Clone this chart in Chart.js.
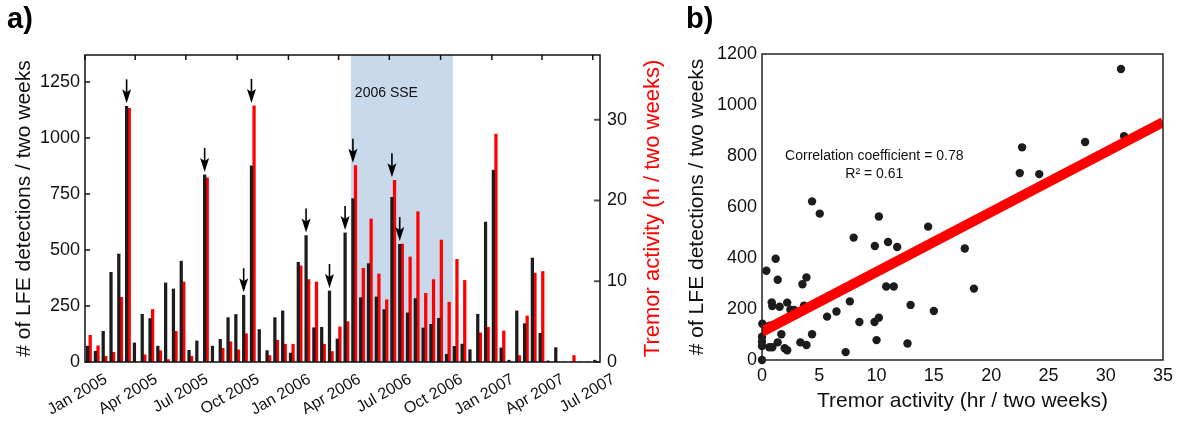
<!DOCTYPE html>
<html>
<head>
<meta charset="utf-8">
<script src="https://cdn.jsdelivr.net/npm/chart.js@4.4.1/dist/chart.umd.min.js"></script>
<style>
  html, body { margin: 0; padding: 0; background: #fff; }
  #wrap { position: relative; width: 1178px; height: 421px; overflow: hidden; }
  #chart-a { position: absolute; left: 0; top: 0; }
  #chart-b { position: absolute; left: 680px; top: 0; }
  .panel { position: absolute; font: bold 29px "Liberation Sans", Arial, sans-serif; color: #000; }
</style>
</head>
<body>
<div id="wrap">
  <canvas id="chart-a" width="680" height="421"></canvas>
  <canvas id="chart-b" width="498" height="421"></canvas>
  <div class="panel" style="left:7px; top:2px;">a)</div>
  <div class="panel" style="left:686px; top:2px;">b)</div>
</div>
<script>
const fontFam = '"Liberation Sans", Arial, Helvetica, sans-serif';
Chart.defaults.font.family = fontFam;
Chart.defaults.color = '#111';

// two-week bins starting 1 Jan 2005
const binDays = 14;
const lfeCounts = [71, 48, 137, 400, 482, 1141, 85, 213, 194, 71,
                   353, 326, 450, 52, 94, 835, 71, 101, 198, 212,
                   298, 875, 145, 51, 198, 228, 40, 445, 564, 153,
                   155, 317, 103, 576, 729, 287, 439, 290, 234, 735,
                   525, 219, 283, 152, 168, 195, 34, 70, 80, 55,
                   213, 624, 856, 63, 8, 228, 171, 464, 128, 5,
                   64, 0, 0, 0, 0, 8];
const tremorHours = [3.3, 2.0, 0.7, 1.2, 8.0, 31.4, 0, 0.9, 6.5, 1.4,
                     0.3, 3.8, 9.9, 0.7, 0, 22.8, 0, 1.7, 2.5, 1.5,
                     3.5, 31.7, 0, 0.8, 2.7, 2.2, 2.2, 11.9, 10.2, 9.9,
                     2.2, 1.3, 4.35, 5.0, 24.3, 11.6, 17.7, 10.9, 7.7, 22.5,
                     14.6, 13.0, 18.6, 8.5, 10.2, 15.1, 7.4, 12.7, 10.1, 0,
                     3.6, 4.3, 28.2, 3.85, 0, 0.8, 5.7, 11.0, 11.2, 0,
                     0, 0, 0.8, 0, 0, 0];
const binLabels = lfeCounts.map((_, i) => 'bin ' + (i + 1));
const arrowBins = [5, 15, 20, 21, 28, 31, 33, 34, 39, 40];

// days after 1 Jan 2005
const quarterDays = [0, 90, 181, 273, 365, 455, 546, 638, 730, 820, 911];
const quarterLabels = ['Jan 2005', 'Apr 2005', 'Jul 2005', 'Oct 2005', 'Jan 2006', 'Apr 2006',
                       'Jul 2006', 'Oct 2006', 'Jan 2007', 'Apr 2007', 'Jul 2007'];
const sseDays = [477, 660];

// panel b
const scatterTremor = [31.33, 31.6, 22.7, 22.5, 24.2, 28.2, 4.37, 5.04, 10.2, 14.5,
                       8.0, 9.85, 11.0, 11.8, 17.7, 1.19, 0.38, 1.37, 3.88, 3.53,
                       10.84, 11.5, 18.5, 0.85, 0.9, 1.54, 2.2, 2.48, 2.8, 3.67,
                       7.67, 12.97, 15.0, 5.68, 6.5, 8.5, 9.82, 10.2, 0.03, 0.67,
                       1.69, 4.37, 0, 0, 0, 0.64, 0.9, 1.37, 1.98, 2.2,
                       3.35, 3.88, 10.0, 12.7, 7.3, 0];
const scatterLfe = [1141, 878, 834, 733, 729, 855, 622, 574, 563, 523,
                    480, 447, 463, 443, 437, 397, 350, 315, 324, 297,
                    288, 288, 280, 226, 212, 209, 225, 197, 196, 213,
                    230, 216, 192, 170, 190, 149, 149, 166, 142, 135,
                    101, 101, 91, 72, 55, 50, 50, 69, 46, 38,
                    69, 59, 78, 65, 31, 0];
const fitTremor = [0, 35];
const fitLfe = [111, 933];

const noGrid = { display: false, drawTicks: false };
const plain = v => String(v);

// shaded slow slip window + label
const sseShade = {
    id: 'sseShade',
    beforeDatasetsDraw(chart) {
        const { ctx, chartArea: a, scales } = chart;
        const x0 = scales.xd.getPixelForValue(sseDays[0]);
        const x1 = scales.xd.getPixelForValue(sseDays[1]);
        ctx.save();
        ctx.fillStyle = '#c8d9ec';
        ctx.fillRect(x0, a.top, x1 - x0, a.bottom - a.top);
        ctx.fillStyle = '#111';
        ctx.font = '14px ' + fontFam;
        ctx.textBaseline = 'middle';
        ctx.fillText('2006 SSE', x0 + 4, a.top + 38);
        ctx.restore();
    }
};

// arrows over selected bins
const arrows = {
    id: 'arrows',
    afterDatasetsDraw(chart) {
        const ctx = chart.ctx;
        const black = chart.getDatasetMeta(0).data;
        const red = chart.getDatasetMeta(1).data;
        ctx.save();
        ctx.fillStyle = '#000';
        ctx.strokeStyle = '#000';
        ctx.lineWidth = 1.6;
        arrowBins.forEach(i => {
            const x = black[i].x;
            const tip = Math.min(black[i].y, red[i].y) - 3;
            ctx.beginPath();
            ctx.moveTo(x, tip - 24);
            ctx.lineTo(x, tip - 9);
            ctx.stroke();
            ctx.beginPath();
            ctx.moveTo(x, tip);
            ctx.lineTo(x - 4.5, tip - 14);
            ctx.lineTo(x, tip - 11);
            ctx.lineTo(x + 4.5, tip - 14);
            ctx.closePath();
            ctx.fill();
        });
        ctx.restore();
    }
};

// box with inward tick marks, red right-hand title reading upwards
const frameA = {
    id: 'frameA',
    afterDraw(chart) {
        const { ctx, chartArea: a, scales } = chart;
        ctx.save();
        ctx.lineWidth = 1.5;
        ctx.strokeStyle = '#111';
        ctx.beginPath();
        scales.xd.ticks.forEach(t => {
            const x = scales.xd.getPixelForValue(t.value);
            ctx.moveTo(x, a.top);
            ctx.lineTo(x, a.top + 5);
        });
        scales.yL.ticks.forEach(t => {
            const y = scales.yL.getPixelForValue(t.value);
            ctx.moveTo(a.left, y);
            ctx.lineTo(a.left + 5, y);
        });
        ctx.stroke();
        ctx.strokeStyle = '#555';
        ctx.lineWidth = 2;
        ctx.beginPath();
        scales.yR.ticks.forEach(t => {
            const y = scales.yR.getPixelForValue(t.value);
            ctx.moveTo(a.right, y);
            ctx.lineTo(a.right - 6, y);
        });
        ctx.stroke();
        ctx.lineWidth = 1.5;
        ctx.strokeStyle = '#111';
        ctx.strokeRect(a.left, a.top, a.right - a.left, a.bottom - a.top);

        ctx.translate(a.right + 53, (a.top + a.bottom) / 2);
        ctx.rotate(-Math.PI / 2);
        ctx.fillStyle = '#ff0000';
        ctx.font = '22px ' + fontFam;
        ctx.textAlign = 'center';
        ctx.textBaseline = 'middle';
        ctx.fillText('Tremor activity (h / two weeks)', 0, 0);
        ctx.restore();
    }
};

const frameB = {
    id: 'frameB',
    afterDraw(chart) {
        const { ctx, chartArea: a, scales } = chart;
        ctx.save();
        ctx.lineWidth = 1.5;
        ctx.strokeStyle = '#222';
        ctx.strokeRect(a.left, a.top, a.right - a.left, a.bottom - a.top);
        ctx.fillStyle = '#111';
        ctx.font = '14px ' + fontFam;
        ctx.textAlign = 'center';
        ctx.textBaseline = 'middle';
        ctx.fillText('Correlation coefficient = 0.78', scales.x.getPixelForValue(9.8), scales.y.getPixelForValue(800));
        ctx.fillText('R\u00B2 = 0.61', scales.x.getPixelForValue(9.8), scales.y.getPixelForValue(729));
        ctx.restore();
    }
};

new Chart(document.getElementById('chart-a'), {
    type: 'bar',
    data: {
        labels: binLabels,
        datasets: [
            { data: lfeCounts, backgroundColor: '#1c1c1c', xAxisID: 'x', yAxisID: 'yL', barThickness: 2.6 },
            { data: tremorHours, backgroundColor: '#ff0000', xAxisID: 'x', yAxisID: 'yR', barThickness: 2.6 }
        ]
    },
    options: {
        responsive: false,
        animation: false,
        layout: { padding: { top: 55, left: 0, right: 0, bottom: 0 } },
        plugins: { legend: { display: false }, tooltip: { enabled: false } },
        scales: {
            x: { type: 'category', axis: 'x', display: false, offset: true },
            xd: {
                type: 'linear', axis: 'x', position: 'bottom', offset: false,
                min: 0, max: lfeCounts.length * binDays,
                afterBuildTicks: s => { s.ticks = quarterDays.map(v => ({ value: v })); },
                afterFit: s => { s.height = 59; },
                grid: { display: false, drawTicks: false, offset: false }, border: { display: false },
                ticks: {
                    autoSkip: false, minRotation: 30, maxRotation: 30,
                    padding: 8, labelOffset: 21, font: { size: 16 },
                    callback: (v, i) => quarterLabels[i]
                }
            },
            yL: {
                position: 'left', min: 0, max: 1370,
                afterFit: s => { s.width = 85; },
                grid: noGrid, border: { display: false },
                ticks: { stepSize: 250, includeBounds: false, padding: 5, font: { size: 18 }, callback: plain },
                title: { display: true, text: '# of LFE detections / two weeks', font: { size: 21 }, padding: { top: 12, bottom: 0 } }
            },
            yR: {
                position: 'right', min: 0, max: 38,
                afterFit: s => { s.width = 80; },
                grid: noGrid, border: { display: false },
                ticks: { stepSize: 10, includeBounds: false, padding: 7, font: { size: 18 }, callback: plain }
            }
        }
    },
    plugins: [sseShade, arrows, frameA]
});

new Chart(document.getElementById('chart-b'), {
    type: 'scatter',
    data: {
        datasets: [
            {
                type: 'line', order: 0,
                data: fitTremor.map((x, i) => ({ x, y: fitLfe[i] })),
                borderColor: '#ff0000', borderWidth: 10, borderCapStyle: 'butt',
                pointRadius: 0, fill: false
            },
            {
                order: 1, clip: false,
                data: scatterTremor.map((x, i) => ({ x, y: scatterLfe[i] })),
                backgroundColor: '#1c1c1c', borderWidth: 0, pointRadius: 4.2
            }
        ]
    },
    options: {
        responsive: false,
        animation: false,
        layout: { padding: { top: 54, left: 0, right: 15, bottom: 0 } },
        plugins: { legend: { display: false }, tooltip: { enabled: false } },
        scales: {
            x: {
                type: 'linear', min: 0, max: 35,
                afterFit: s => { s.height = 61; },
                grid: noGrid, border: { display: false },
                ticks: { stepSize: 5, padding: 5, maxRotation: 0, font: { size: 18 }, callback: plain },
                title: { display: true, text: 'Tremor activity (hr / two weeks)', font: { size: 21 }, padding: { top: 0, bottom: 7 } }
            },
            y: {
                type: 'linear', min: 0, max: 1200,
                afterFit: s => { s.width = 82; },
                grid: noGrid, border: { display: false },
                ticks: { stepSize: 200, padding: 5, font: { size: 18 }, callback: plain },
                title: { display: true, text: '# of LFE detections / two weeks', font: { size: 21 }, padding: { top: 5, bottom: 0 } }
            }
        }
    },
    plugins: [frameB]
});
</script>
</body>
</html>
